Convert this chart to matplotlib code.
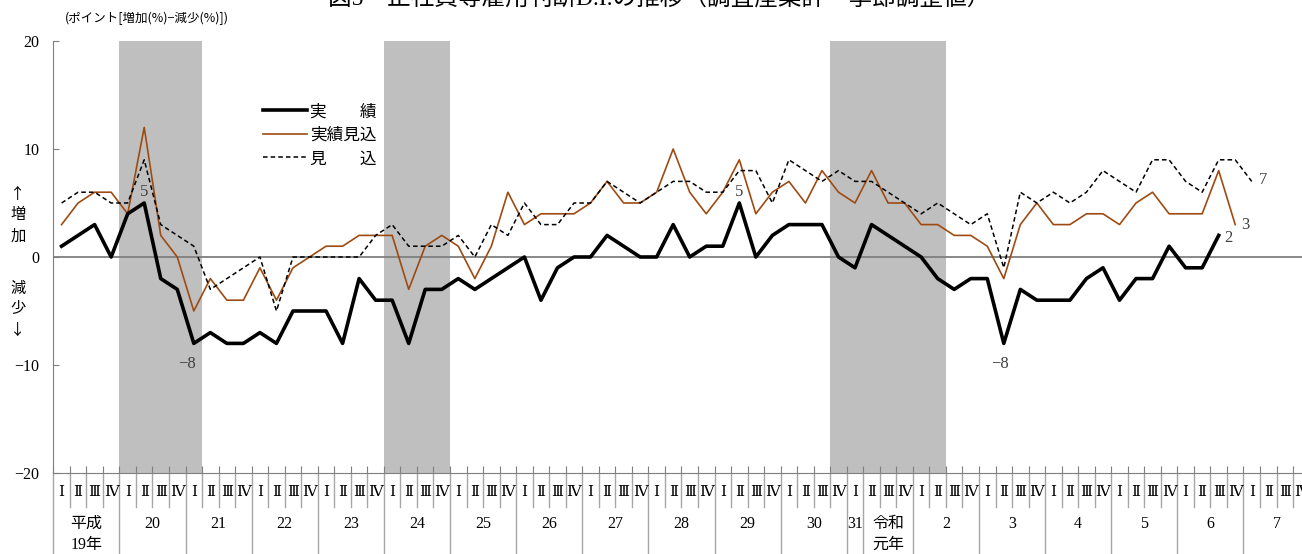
import matplotlib
matplotlib.use("Agg")
import matplotlib.pyplot as plt
import numpy as np

plt.rcParams['font.family'] = ['Liberation Serif', 'DejaVu Serif', 'Noto Sans CJK JP']

# 実績 (平成19年Ⅰ期 ～ 令和6年Ⅲ期)
actual = [1, 2, 3, 0, 4, 5, -2, -3, -8, -7, -8, -8, -7, -8, -5, -5,
          -5, -8, -2, -4, -4, -8, -3, -3, -2, -3, -2, -1, 0, -4, -1, 0,
          0, 2, 1, 0, 0, 3, 0, 1, 1, 5, 0, 2, 3, 3, 3, 0,
          -1, 3, 2, 1, 0, -2, -3, -2, -2, -8, -3, -4, -4, -4, -2, -1,
          -4, -2, -2, 1, -1, -1, 2]
# 実績見込
expected_actual = [3, 5, 6, 6, 4, 12, 2, 0, -5, -2, -4, -4, -1, -4, -1, 0,
                   1, 1, 2, 2, 2, -3, 1, 2, 1, -2, 1, 6, 3, 4, 4, 4,
                   5, 7, 5, 5, 6, 10, 6, 4, 6, 9, 4, 6, 7, 5, 8, 6,
                   5, 8, 5, 5, 3, 3, 2, 2, 1, -2, 3, 5, 3, 3, 4, 4,
                   3, 5, 6, 4, 4, 4, 8, 3]
# 見込
forecast = [5, 6, 6, 5, 5, 9, 3, 2, 1, -3, -2, -1, 0, -5, 0, 0,
            0, 0, 0, 2, 3, 1, 1, 1, 2, 0, 3, 2, 5, 3, 3, 5,
            5, 7, 6, 5, 6, 7, 7, 6, 6, 8, 8, 5, 9, 8, 7, 8,
            7, 7, 6, 5, 4, 5, 4, 3, 4, -1, 6, 5, 6, 5, 6, 8,
            7, 6, 9, 9, 7, 6, 9, 9, 7]

year_labels = ['平成\n19年', '20', '21', '22', '23', '24', '25', '26', '27', '28',
               '29', '30', '31', '令和\n元年', '2', '3', '4', '5', '6', '7']
year_quarters = [4] * 12 + [1, 3] + [4] * 6
quarter_names = ['Ⅰ', 'Ⅱ', 'Ⅲ', 'Ⅳ']

# 景気後退期 (開始四半期, 終了四半期)
recessions = [(4, 8), (20, 23), (47, 53)]

n_q = sum(year_quarters)
W, H = 1302, 554
fig = plt.figure(figsize=(W / 100, H / 100), dpi=100)
ax = fig.add_axes([53.3 / W, (H - 473) / H, (1309.6 - 53.3) / W, 432 / H])

for s, e in recessions:
    ax.axvspan(s - 0.5, e + 0.5, color='#bfbfbf', lw=0, zorder=0)
ax.axhline(0, color='#7f7f7f', lw=1.3, zorder=1)

ax.plot(np.arange(len(actual)), actual, color='black', lw=2.6, label='実\u3000\u3000績', zorder=4)
ax.plot(np.arange(len(expected_actual)), expected_actual, color='#9e4b12', lw=1.2,
        label='実績見込', zorder=3)
ax.plot(np.arange(len(forecast)), forecast, color='black', lw=1.1, ls=(0, (3, 2)),
        label='見\u3000\u3000込', zorder=3)

lab = dict(color='#404040', fontsize=12, textcoords='offset points')
ax.annotate('5', (5, 5), xytext=(0, 8), ha='center', va='center', **lab)
ax.annotate('5', (41, 5), xytext=(0, 8), ha='center', va='center', **lab)
ax.annotate('−8', (8, -8), xytext=(-5, -15), ha='center', va='center', **lab)
ax.annotate('−8', (57, -8), xytext=(-3, -15), ha='center', va='center', **lab)
ax.annotate('2', (70, actual[70]), xytext=(4, -2), ha='left', va='center', **lab)
ax.annotate('3', (71, expected_actual[71]), xytext=(4, 0), ha='left', va='center', **lab)
ax.annotate('7', (72, forecast[72]), xytext=(5, 1), ha='left', va='center', **lab)

ax.set_xlim(-0.5, n_q - 0.5)
ax.set_ylim(-20, 20)
ax.set_yticks([-20, -10, 0, 10, 20])
ax.set_xticks(np.arange(-0.5, n_q, 1))
ax.set_xticklabels([])
ax.tick_params(axis='y', direction='in', length=4, color='#7f7f7f', labelsize=11.5, pad=10)
ax.tick_params(axis='x', direction='in', length=5, color='#7f7f7f')
for side in ['top', 'right']:
    ax.spines[side].set_visible(False)
for side in ['left', 'bottom']:
    ax.spines[side].set_color('#7f7f7f')

# 下の表 (四半期・年)
tr = ax.get_xaxis_transform()
bounds = np.cumsum([0] + year_quarters)
for k in range(n_q + 1):
    y_end = -0.1875 if k in bounds else -0.079
    ax.plot([k - 0.5, k - 0.5], [0, y_end], transform=tr, color='#a6a6a6',
            lw=1, clip_on=False)
for i in range(n_q):
    ax.text(i, -0.046, quarter_names[i % 4], transform=tr, ha='center', va='center',
            fontsize=11)
start = 0
for name, cnt in zip(year_labels, year_quarters):
    xc = start + cnt / 2 - 0.5
    for j, line in enumerate(name.split('\n')):
        ax.text(xc, -0.118 - j * 0.049, line, transform=tr, ha='center', va='center',
                fontsize=11.5)
    start += cnt

ax.legend(loc='upper left', bbox_to_anchor=(255 / W, 1 - 96 / H),
          bbox_transform=fig.transFigure, frameon=False, fontsize=12,
          handlelength=2.6, handletextpad=0.2, labelspacing=0.45, borderpad=0)

fig.text(659 / W, 1 + 2 / H, '図5\u3000正社員等雇用判断D.I.の推移（調査産業計・季節調整値）',
         ha='center', va='center', fontsize=17)
fig.text(65 / W, 1 - 18 / H, '(ポイント[増加(%)−減少(%)])', ha='left', va='center',
         fontsize=9, family=['Noto Sans CJK JP'])
fig.text(18 / W, 1 - 215 / H, '↑\n増\n加', ha='center', va='center', fontsize=11,
         linespacing=1.3, family=['Noto Sans CJK JP'])
fig.text(18 / W, 1 - 309 / H, '減\n少\n↓', ha='center', va='center', fontsize=11,
         linespacing=1.3, family=['Noto Sans CJK JP'])

fig.savefig('out.png', dpi=100)
